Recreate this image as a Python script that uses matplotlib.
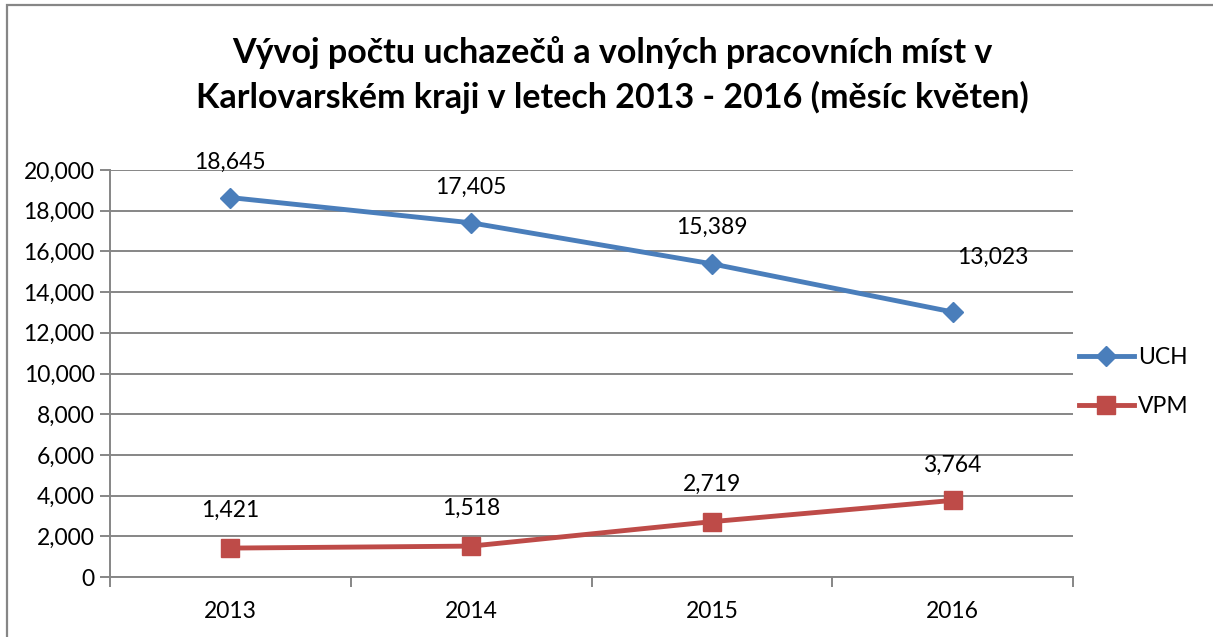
import matplotlib
matplotlib.use("Agg")
import matplotlib.pyplot as plt
from matplotlib.patches import Rectangle
from matplotlib.ticker import FuncFormatter, FixedLocator

years = ["2013", "2014", "2015", "2016"]
uch = [18645, 17405, 15389, 13023]
vpm = [1421, 1518, 2719, 3764]
series_names = ["UCH", "VPM"]
title = "Vývoj počtu uchazečů a volných pracovních míst v\nKarlovarském kraji v letech 2013 - 2016 (měsíc květen)"

FONT = ["Lato", "DejaVu Sans"]
plt.rcParams["font.family"] = FONT

W, H = 1213, 637
fig = plt.figure(figsize=(W / 100, H / 100), dpi=100)
fig.patch.set_facecolor("white")

L, R, T, B = 110, 1073, 170, 577
ax = fig.add_axes([L / W, 1 - B / H, (R - L) / W, (B - T) / H])

grid_c = "#868686"
blue = "#4A7EBB"
red = "#BE4B48"
FS = 16.5

x = [i + 0.5 for i in range(len(years))]
ax.plot(x, uch, color=blue, lw=3.5, marker="D", ms=10, mec=blue, mfc=blue,
        label=series_names[0], zorder=3)
ax.plot(x, vpm, color=red, lw=3.5, marker="s", ms=13.5, mec=red, mfc=red,
        label=series_names[1], zorder=3)

ax.set_xlim(0, 4)
ax.set_ylim(0, 20000)
ax.set_yticks(range(0, 20001, 2000))
ax.yaxis.set_major_formatter(FuncFormatter(lambda v, p: f"{int(v):,}"))
ax.grid(axis="y", color=grid_c, lw=1.4)
ax.set_axisbelow(True)

ax.set_xticks(x)
ax.set_xticklabels(years)
ax.xaxis.set_minor_locator(FixedLocator([0, 1, 2, 3, 4]))
ax.tick_params(axis="x", which="major", length=0, pad=17, labelsize=FS)
ax.tick_params(axis="x", which="minor", length=7, width=1.4, color=grid_c)
ax.tick_params(axis="y", length=7, width=1.4, color=grid_c, labelsize=FS, pad=4)

for s in ["top", "right"]:
    ax.spines[s].set_visible(False)
for s in ["left", "bottom"]:
    ax.spines[s].set_color(grid_c)
    ax.spines[s].set_linewidth(1.4)

uch_off = [(0, 35), (0, 35), (0, 36), (40, 55)]
vpm_off = [(0, 38), (0, 38), (0, 37), (0, 35)]
for xi, v, off in zip(x, uch, uch_off):
    ax.annotate(f"{v:,}", (xi, v), xytext=off, textcoords="offset pixels",
                ha="center", va="center", fontsize=FS)
for xi, v, off in zip(x, vpm, vpm_off):
    ax.annotate(f"{v:,}", (xi, v), xytext=off, textcoords="offset pixels",
                ha="center", va="center", fontsize=FS)

leg = ax.legend(loc="center left", bbox_to_anchor=(1.0, 0.479), frameon=False,
                fontsize=FS, handlelength=2.4, handletextpad=0.2,
                labelspacing=1.2, borderaxespad=0.0, borderpad=0.25)

fig.text(612 / W, 1 - 75 / H, title, ha="center", va="center",
         fontsize=24.5, fontweight="bold", linespacing=1.45)

fig.patches.append(Rectangle((7 / W, -0.1), 1.2, 1.1 - 5 / H, transform=fig.transFigure,
                             fill=False, edgecolor=grid_c, lw=1.6))

fig.savefig("out.png", dpi=100, facecolor="white")
